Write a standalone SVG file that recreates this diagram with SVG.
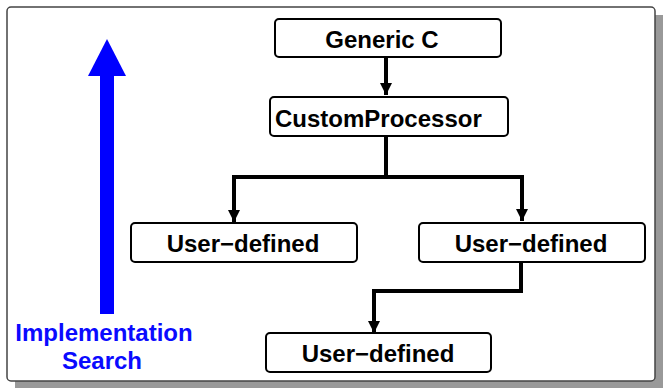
<svg xmlns="http://www.w3.org/2000/svg" width="664" height="388" viewBox="0 0 664 388">
<style>
.box{fill:#fff;stroke:#000;stroke-width:2}
.lbl{font-family:"Liberation Sans",Arial,sans-serif;font-weight:bold;font-size:24px;fill:#000}
.blue{font-family:"Liberation Sans",Arial,sans-serif;font-weight:bold;font-size:24px;fill:#0a0aff;text-anchor:middle}
.conn{fill:none;stroke:#000;stroke-width:4;stroke-linejoin:miter}
</style>
<defs>
<marker id="ah" markerUnits="userSpaceOnUse" markerWidth="14" markerHeight="14" viewBox="0 0 14 14" refX="12" refY="7" orient="auto">
<path d="M0,1 L12,7 L0,13 Z" fill="#000"/>
</marker>
</defs>
<rect x="0" y="0" width="664" height="388" fill="#fff"/>
<rect x="15" y="15" width="648" height="373" fill="#999"/>
<rect x="7" y="7" width="648" height="374" rx="4" fill="#fff" stroke="#444" stroke-width="1.5"/>
<g id="search-arrow">
<rect x="100" y="74" width="14" height="240" fill="#0000ff"/>
<path d="M107,39 L126,76 L88,76 Z" fill="#0000ff"/>
<text class="blue" x="104" y="341">Implementation</text>
<text class="blue" x="102" y="369">Search</text>
</g>
<g id="connectors">
<path class="conn" d="M386,58 V95" marker-end="url(#ah)"/>
<path class="conn" d="M386,137 V177 H234 V222" marker-end="url(#ah)"/>
<path class="conn" d="M386,177 H522 V221" marker-end="url(#ah)"/>
<path class="conn" d="M521,262 V291 H374 V333" marker-end="url(#ah)"/>
</g>
<g id="generic-c">
<rect class="box" x="275" y="19" width="226" height="38" rx="4"/>
<text class="lbl" x="382" y="48" text-anchor="middle">Generic C</text>
</g>
<g id="custom-processor">
<rect class="box" x="270" y="97" width="238" height="39" rx="4"/>
<text class="lbl" x="275" y="127">CustomProcessor</text>
</g>
<g id="user-defined-left">
<rect class="box" x="131" y="223" width="226" height="39" rx="4"/>
<text class="lbl" x="243" y="252" text-anchor="middle">User−defined</text>
</g>
<g id="user-defined-right">
<rect class="box" x="419" y="223" width="226" height="39" rx="4"/>
<text class="lbl" x="531" y="252" text-anchor="middle">User−defined</text>
</g>
<g id="user-defined-bottom">
<rect class="box" x="266" y="333" width="225" height="39" rx="4"/>
<text class="lbl" x="378" y="362" text-anchor="middle">User−defined</text>
</g>
</svg>
